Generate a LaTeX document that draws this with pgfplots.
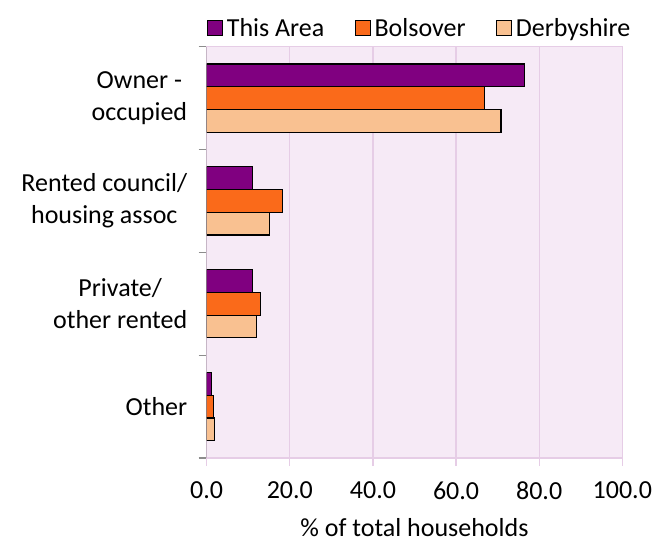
\documentclass[border=0pt]{standalone}
\usepackage{fontspec}
\setmainfont{Carlito}
\usepackage{pgfplots}
\pgfplotsset{compat=1.18}
\definecolor{cArea}{HTML}{800080}
\definecolor{cBols}{HTML}{FA6A1A}
\definecolor{cDerb}{HTML}{F9C191}
\definecolor{bgpink}{HTML}{F6EAF6}
\definecolor{gridpink}{HTML}{E6CDE6}
\definecolor{axgray}{HTML}{8C8C8C}
\begin{document}
\begin{tikzpicture}[font=\fontsize{26bp}{31.5bp}\selectfont]
\begin{axis}[name=ax,
  scale only axis, width=415.6bp, height=411.3bp,
  xbar, bar width=22.7bp,
  xmin=0, xmax=100, ymin=0.5, ymax=4.5,
  axis background/.style={fill=bgpink},
  axis line style={draw=gridpink, line width=1.2bp},
  xtick={0,20,40,60,80,100},
  xtick pos=bottom, tick align=outside,
  x tick style={draw=gridpink, line width=1.2bp},
  xmajorgrids, major grid style={draw=gridpink, line width=1.2bp},
  major tick length=8bp,
  xticklabel style={/pgf/number format/fixed, /pgf/number format/fixed zerofill, /pgf/number format/precision=1, /pgf/number format/assume math mode=true, yshift=-12bp},
  ytick={0.5,1.5,2.5,3.5,4.5}, yticklabels={},
  ytick pos=left,
  y tick style={draw=axgray, line width=1.2bp},
  extra y ticks={1,2,3,4},
  extra y tick labels={Other,{Private/\\other rented},{Rented council/\\housing assoc},{Owner -\\occupied}},
  extra y tick style={major tick length=0bp, yticklabel style={align=center, xshift=-16bp}},
  xlabel={\% of total households},
  xlabel style={yshift=-12bp},
  legend image code/.code={\draw[#1,draw=black,line width=1.2bp] (0bp,-7.5bp) rectangle (15bp,7.5bp);},
  legend style={at={(0.5,1)}, anchor=south, yshift=3bp, xshift=6bp, draw=none, fill=none,
    legend columns=-1, /tikz/every even column/.append style={column sep=27bp},
    nodes={inner sep=3.5bp}},
]
\addplot[fill=cArea, draw=black, line width=1.2bp, bar shift=22.7bp] coordinates {(1.1,1) (11.1,2) (11.1,3) (76.4,4)};
\addplot[fill=cBols, draw=black, line width=1.2bp, bar shift=0bp] coordinates {(1.7,1) (13.0,2) (18.2,3) (66.8,4)};
\addplot[fill=cDerb, draw=black, line width=1.2bp, bar shift=-22.7bp] coordinates {(1.8,1) (11.9,2) (15.2,3) (70.8,4)};
\legend{This Area, Bolsover, Derbyshire}
\draw[axgray, line width=1.5bp] (rel axis cs:0,0) -- (rel axis cs:0,1);
\end{axis}
\pgfresetboundingbox
\path (ax.south west) ++(-206.7bp,-85bp) rectangle ([shift={(31.7bp,46.7bp)}]ax.north east);
\end{tikzpicture}
\end{document}
